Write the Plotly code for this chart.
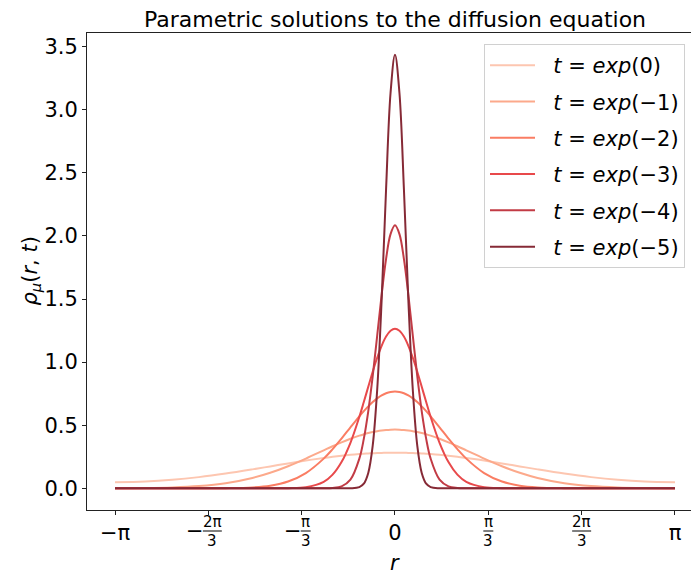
import math
import plotly.graph_objects as go

# Radial grid (r >= 0); curves are symmetric about r = 0
R_HALF = [0.0, 0.05, 0.1, 0.15, 0.2, 0.25, 0.3, 0.35, 0.4, 0.5, 0.6, 0.7, 0.8,
          1.0, 1.2, 1.4, 1.6, 1.9, 2.2, 2.5, 2.8, 3.1416]

# Density values at each grid point, one list per time
RHO_T0 = [0.2821, 0.2819, 0.2814, 0.2805, 0.2793, 0.2777, 0.2758, 0.2736, 0.2710, 0.2650,
          0.2578, 0.2496, 0.2404, 0.2200, 0.1973, 0.1736, 0.1499, 0.1167, 0.0885, 0.0670,
          0.0533, 0.0478]
RHO_T1 = [0.4651, 0.4643, 0.4619, 0.4580, 0.4526, 0.4458, 0.4375, 0.4279, 0.4172, 0.3924,
          0.3642, 0.3334, 0.3011, 0.2357, 0.1748, 0.1228, 0.0817, 0.0400, 0.0173, 0.0067,
          0.0024, 0.0011]
RHO_T2 = [0.7668, 0.7633, 0.7528, 0.7356, 0.7122, 0.6832, 0.6494, 0.6115, 0.5706, 0.4832,
          0.3943, 0.3102, 0.2351, 0.1209, 0.0536, 0.0205, 0.0068, 0.0010, 0.0001, 0.0,
          0.0, 0.0]
RHO_T3 = [1.2643, 1.2485, 1.2023, 1.1292, 1.0342, 0.9237, 0.8046, 0.6834, 0.5661, 0.3603,
          0.2074, 0.1079, 0.0508, 0.0083, 0.0009, 0.0001, 0.0, 0.0, 0.0, 0.0, 0.0, 0.0]
RHO_T4 = [2.0844, 2.0145, 1.8185, 1.5332, 1.2074, 0.8882, 0.6102, 0.3916, 0.2348, 0.0687,
          0.0153, 0.0026, 0.0003, 0.0, 0.0, 0.0, 0.0, 0.0, 0.0, 0.0, 0.0, 0.0]
RHO_T5 = [3.4366, 3.1322, 2.3713, 1.4914, 0.7791, 0.3381, 0.1219, 0.0365, 0.0091, 0.0003,
          0.0, 0.0, 0.0, 0.0, 0.0, 0.0, 0.0, 0.0, 0.0, 0.0, 0.0, 0.0]

SERIES = [RHO_T0, RHO_T1, RHO_T2, RHO_T3, RHO_T4, RHO_T5]
LABELS = ["<i>t</i> = <i>exp</i>(0)", "<i>t</i> = <i>exp</i>(−1)", "<i>t</i> = <i>exp</i>(−2)",
          "<i>t</i> = <i>exp</i>(−3)", "<i>t</i> = <i>exp</i>(−4)", "<i>t</i> = <i>exp</i>(−5)"]
COLORS = ["#fdc6b0", "#fca98b", "#fa7d63", "#e8494b", "#c23b45", "#862a36"]

# x ticks: multiples of pi/3
TICK_VALS = [-math.pi, -2 * math.pi / 3, -math.pi / 3, 0.0, math.pi / 3, 2 * math.pi / 3, math.pi]
# plain tick labels; fraction ticks are drawn separately as (sign, numerator, denominator)
TICK_PLAIN = ["−π", None, None, "0", None, None, "π"]
TICK_FRAC = [None, ("−", "2π", "3"), ("−", "π", "3"), None, ("", "π", "3"), ("", "2π", "3"), None]

FONT = "DejaVu Sans"
PX_PER_UNIT = 604 / (3.3213 + 3.4558)
PLOT_H = 477

fig = go.Figure()
for vals, name, col in zip(SERIES, LABELS, COLORS):
    r_full = [-r for r in reversed(R_HALF[1:])] + R_HALF
    v_full = list(reversed(vals[1:])) + vals
    fig.add_trace(go.Scatter(x=r_full, y=v_full, mode="lines", name="\u00a0\u00a0" + name,
                             legendgroup=name,
                             line=dict(color=col, width=2, shape="spline")))

annotations = []
shapes = []
for tv, frac in zip(TICK_VALS, TICK_FRAC):
    if frac is None:
        continue
    sign, num, den = frac
    half = (9.5 if len(num) > 1 else 5)
    xoff = 4 if sign else 0
    annotations.append(dict(x=tv, y=0, xref="x", yref="paper", text=num, showarrow=False,
                            xanchor="center", yanchor="middle", xshift=xoff, yshift=-12,
                            font=dict(family=FONT, size=15, color="black")))
    annotations.append(dict(x=tv, y=0, xref="x", yref="paper", text=den, showarrow=False,
                            xanchor="center", yanchor="middle", xshift=xoff, yshift=-31,
                            font=dict(family=FONT, size=15, color="black")))
    shapes.append(dict(type="line", xref="x", yref="paper",
                       x0=tv + (xoff - half) / PX_PER_UNIT, x1=tv + (xoff + half) / PX_PER_UNIT,
                       y0=-21 / PLOT_H, y1=-21 / PLOT_H, line=dict(color="black", width=1)))
    if sign:
        annotations.append(dict(x=tv, y=0, xref="x", yref="paper", text=sign, showarrow=False,
                                xanchor="right", yanchor="middle", xshift=xoff - half + 3,
                                yshift=-21, font=dict(family=FONT, size=21, color="black")))

# axis titles
annotations.append(dict(x=(395 - 87) / 604, y=0, xref="paper", yref="paper", text="<i>r</i>",
                        showarrow=False, xanchor="center", yanchor="middle", yshift=-53,
                        font=dict(family=FONT, size=21, color="black")))
annotations.append(dict(x=0, y=0.5, xref="paper", yref="paper",
                        text="<i>ρ</i><sub><i>μ</i></sub>(<i>r</i>, <i>t</i>)",
                        showarrow=False, textangle=-90, xanchor="center", yanchor="middle",
                        xshift=-57, font=dict(family=FONT, size=21, color="black")))

fig.update_layout(
    width=691, height=577,
    margin=dict(l=87, r=0, t=33, b=67),
    plot_bgcolor="white", paper_bgcolor="white",
    font=dict(family=FONT, size=21, color="black"),
    title=dict(text="Parametric solutions to the diffusion equation", x=395 / 691,
               xref="container", xanchor="center", y=1 - 19 / 577, yref="container",
               yanchor="middle", font=dict(family=FONT, size=22, color="black")),
    xaxis=dict(range=[-3.4558, 3.3213], tickvals=TICK_VALS,
               ticktext=[t if t is not None else "\u00a0" for t in TICK_PLAIN],
               ticks="outside", ticklen=4, tickwidth=1, tickcolor="#222",
               showline=True, linecolor="#222", linewidth=1, mirror=True,
               showgrid=False, zeroline=False, tickfont=dict(size=21)),
    yaxis=dict(range=[-0.172, 3.608], tickvals=[0, 0.5, 1.0, 1.5, 2.0, 2.5, 3.0, 3.5],
               ticktext=["0.0", "0.5", "1.0", "1.5", "2.0", "2.5", "3.0", "3.5"],
               ticks="outside", ticklen=4, tickwidth=1, tickcolor="#222",
               showline=True, linecolor="#222", linewidth=1, mirror=False,
               showgrid=False, zeroline=False, tickfont=dict(size=21)),
    legend=dict(x=(484 - 87) / 604, y=(510 - 44) / 477, xanchor="left", yanchor="top",
                bgcolor="rgba(255,255,255,0.85)", bordercolor="#d0d0d0", borderwidth=1,
                font=dict(family=FONT, size=21), tracegroupgap=6, itemwidth=45),
    annotations=annotations,
    shapes=shapes,
    showlegend=True,
)

fig.write_html("out.html")
